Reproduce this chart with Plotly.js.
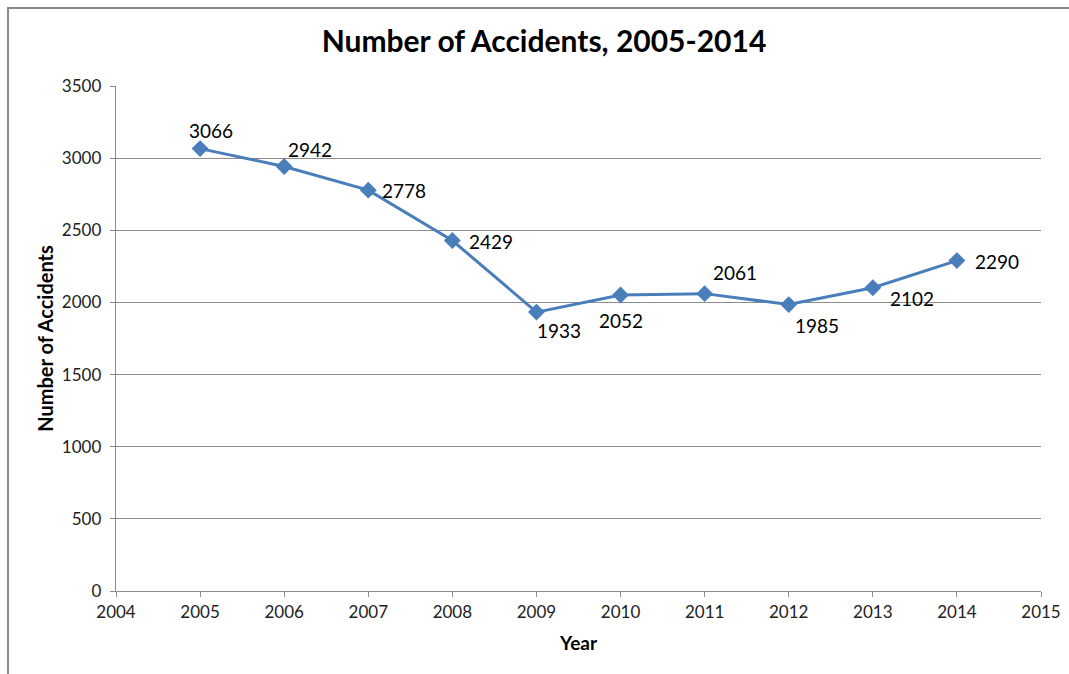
<!DOCTYPE html>
<html>
<head>
<meta charset="utf-8">
<script src="https://cdn.plot.ly/plotly-3.0.1.min.js"></script>
<style>
html,body{margin:0;padding:0;background:#fff;}
#wrap{position:relative;width:1069px;height:674px;}
#chart{position:absolute;left:0;top:0;width:1069px;height:674px;}
#bl{position:absolute;left:7px;top:7px;width:2px;height:667px;background:#8a8a8a;}
#bt{position:absolute;left:7px;top:7px;width:1062px;height:2px;background:#8a8a8a;}
</style>
</head>
<body>
<div id="wrap">
<div id="chart"></div>
<div id="bl"></div>
<div id="bt"></div>
</div>
<script>
const years = [2005, 2006, 2007, 2008, 2009, 2010, 2011, 2012, 2013, 2014];
const accidents = [3066, 2942, 2778, 2429, 1933, 2052, 2061, 1985, 2102, 2290];
const labelDx = [11, 26, 36, 39, 23, 0, 30, 28, 39, 40];
const labelDy = [18, 17, 0, -1, -18, -26, 21, -21, -11, -1];

const font = "Lato, 'Open Sans', sans-serif";

const trace = {
  x: years,
  y: accidents,
  type: 'scatter',
  mode: 'lines+markers',
  line: {color: '#4A7EBB', width: 3},
  marker: {symbol: 'diamond', size: 13, color: '#4A7EBB'},
  hoverinfo: 'x+y'
};

const annotations = years.map((yr, i) => ({
  x: yr, y: accidents[i], text: String(accidents[i]),
  showarrow: false, xshift: labelDx[i], yshift: labelDy[i],
  xanchor: 'center', yanchor: 'middle',
  font: {family: font, size: 19, color: '#000'}
}));

const layout = {
  width: 1069, height: 674,
  margin: {l: 116, r: 28, t: 86, b: 83},
  paper_bgcolor: '#fff', plot_bgcolor: '#fff',
  showlegend: false,
  font: {family: font, color: '#000'},
  title: {
    text: '<b>Number of Accidents, 2005-2014</b>',
    font: {family: font, size: 30, color: '#000'},
    xref: 'container', yref: 'container',
    x: 544/1069, y: 1 - 41/674, xanchor: 'center', yanchor: 'middle'
  },
  xaxis: {
    range: [2004, 2015], dtick: 1, tick0: 2004,
    showgrid: false, zeroline: false,
    showline: true, linecolor: '#8c8c8c', linewidth: 1.3,
    ticks: 'outside', ticklen: 5, tickcolor: '#8c8c8c', tickwidth: 1,
    tickfont: {family: font, size: 17, color: '#222'},
    title: {text: '<b>Year</b>', font: {family: font, size: 19, color: '#000'}, standoff: 16},
    fixedrange: true
  },
  yaxis: {
    range: [0, 3500], dtick: 500,
    showgrid: true, gridcolor: '#8c8c8c', gridwidth: 1,
    zeroline: false,
    showline: true, linecolor: '#8c8c8c', linewidth: 1.3,
    ticks: 'outside', ticklen: 5, tickcolor: '#8c8c8c', tickwidth: 1,
    ticklabelstandoff: 5,
    tickfont: {family: font, size: 17, color: '#222'},
    title: {text: '<b>Number of Accidents</b>', font: {family: font, size: 20, color: '#000'}, standoff: 2},
    fixedrange: true
  },
  annotations: annotations
};

Plotly.newPlot('chart', [trace], layout, {displayModeBar: false, staticPlot: true});
</script>
</body>
</html>
